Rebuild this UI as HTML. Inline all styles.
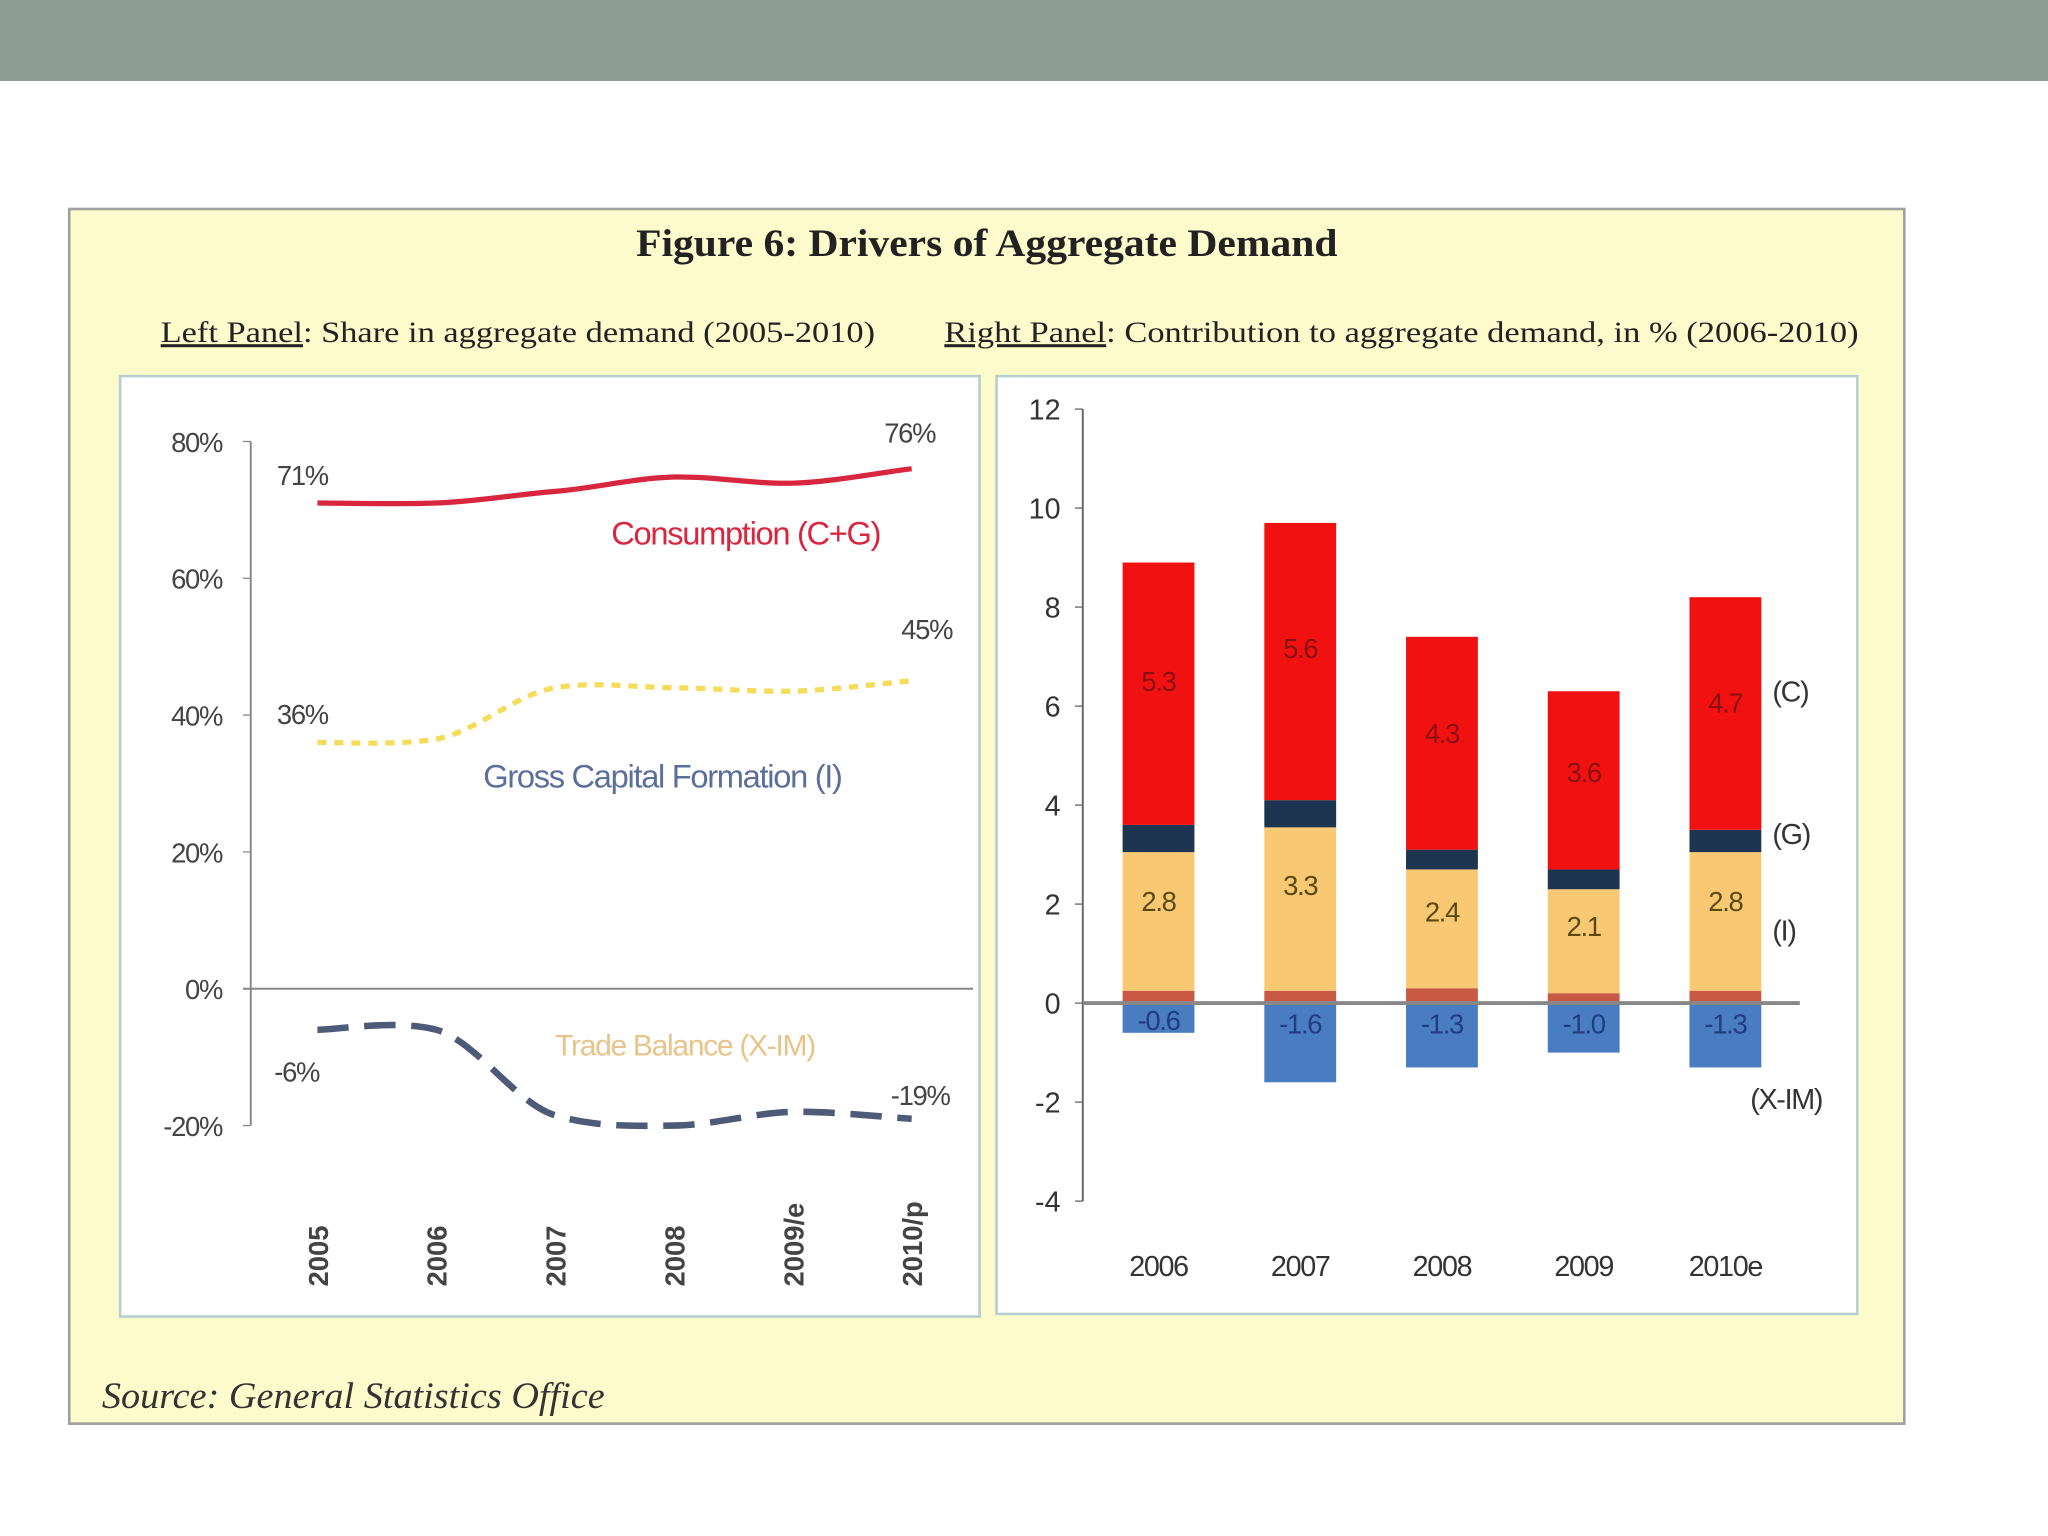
<!DOCTYPE html>
<html><head><meta charset="utf-8"><style>
html,body{margin:0;padding:0;background:#fff;}
svg{display:block;}
</style></head><body>
<svg id="s" width="2048" height="1536" viewBox="0 0 1568 1176" xmlns="http://www.w3.org/2000/svg" font-family="Liberation Sans, sans-serif">
<rect x="0" y="0" width="1568" height="62" fill="#8d9d96"/>
<rect x="53" y="160" width="1405" height="930" fill="#fdfbcc" stroke="#a0a0a0" stroke-width="2"/>
<text x="487" y="196" textLength="537" lengthAdjust="spacingAndGlyphs" font-family="Liberation Serif, serif" font-weight="bold" font-size="30" fill="#222">Figure 6: Drivers of Aggregate Demand</text>
<text x="123" y="262" textLength="547" lengthAdjust="spacingAndGlyphs" font-family="Liberation Serif, serif" font-size="23" fill="#222"><tspan text-decoration="underline">Left Panel</tspan>: Share in aggregate demand (2005-2010)</text>
<text x="723" y="262" textLength="700" lengthAdjust="spacingAndGlyphs" font-family="Liberation Serif, serif" font-size="23" fill="#222"><tspan text-decoration="underline">Right Panel</tspan>: Contribution to aggregate demand, in % (2006-2010)</text>
<rect x="92" y="288" width="658" height="720" fill="#fff" stroke="#b8cfcf" stroke-width="2"/>
<rect x="763" y="288" width="659" height="718" fill="#fff" stroke="#b8cfcf" stroke-width="2"/>
<g id="left"></g>
<g id="right"></g>
<text x="78" y="1078" textLength="385" lengthAdjust="spacingAndGlyphs" font-family="Liberation Serif, serif" font-style="italic" font-size="28" fill="#333">Source: General Statistics Office</text>
</svg>
<script>
const years = ['2005','2006','2007','2008','2009/e','2010/p'];
const consumption = [71, 71, 72.7, 74.8, 73.9, 76];
const capital = [36, 36.5, 44, 44, 43.5, 45];
const trade = [-6, -6, -18.5, -20, -18, -19];
const leftTicks = [80, 60, 40, 20, 0, -20];

const barYears = ['2006','2007','2008','2009','2010e'];
const other = [0.25, 0.25, 0.3, 0.2, 0.25];
const invest = [2.8, 3.3, 2.4, 2.1, 2.8];
const govt = [0.55, 0.55, 0.4, 0.4, 0.45];
const cons = [5.3, 5.6, 4.3, 3.6, 4.7];
const netExp = [-0.6, -1.6, -1.3, -1.0, -1.3];
const rightTicks = [12, 10, 8, 6, 4, 2, 0, -2, -4];

const NS = 'http://www.w3.org/2000/svg';
function mk(parent, tag, attrs, txt){
  const e = document.createElementNS(NS, tag);
  for (const k in attrs) e.setAttribute(k, attrs[k]);
  if (txt !== undefined) e.textContent = txt;
  parent.appendChild(e); return e;
}
const L = document.getElementById('left');
const lx = i => 243 + i * 91;
const ly = v => 757 - v * 5.2375;
let ax = mk(L, 'line', {x1:192, y1:ly(80), x2:192, y2:ly(-20), stroke:'#888', 'stroke-width':1.5});


let zl = mk(L, 'line', {x1:186, y1:ly(0), x2:745, y2:ly(0), stroke:'#888', 'stroke-width':1.5});


leftTicks.forEach(t => {
  mk(L, 'line', {x1:186, y1:ly(t), x2:192, y2:ly(t), stroke:'#888'});
  const tx = mk(L, 'text', {x:170, y:ly(t)+8, 'text-anchor':'end', 'font-size':21, fill:'#444', 'letter-spacing':'-1'}, t + '%');
  
  
});
years.forEach((y, i) => {
  const tx = mk(L, 'text', {transform:`translate(${lx(i)+8},${985}) rotate(-90)`, 'font-size':21, 'font-weight':'bold', fill:'#444'}, y);
  
  
});
function smooth(vals){
  const p = vals.map((v,i)=>[lx(i), ly(v)]);
  let d = `M${p[0][0]},${p[0][1]}`;
  for (let i=0;i<p.length-1;i++){
    const p0=p[Math.max(0,i-1)], p1=p[i], p2=p[i+1], p3=p[Math.min(p.length-1,i+2)];
    const c1=[p1[0]+(p2[0]-p0[0])/6, p1[1]+(p2[1]-p0[1])/8];
    const c2=[p2[0]-(p3[0]-p1[0])/6, p2[1]-(p3[1]-p1[1])/8];
    d += ` C${c1[0]},${c1[1]} ${c2[0]},${c2[1]} ${p2[0]},${p2[1]}`;
  }
  return d;
}
let s1 = mk(L, 'path', {d:smooth(consumption), fill:'none', stroke:'#d9263f', 'stroke-width':4});


let s2 = mk(L, 'path', {d:smooth(capital), fill:'none', stroke:'#f5dc5a', 'stroke-width':4, 'stroke-dasharray':'7 6'});


let s3 = mk(L, 'path', {d:smooth(trade), fill:'none', stroke:'#4d5a78', 'stroke-width':5, 'stroke-dasharray':'24 12'});


const lab = (txt, x, y, col, size, name) => {
  const t = mk(L, 'text', {x, y, 'font-size':size, fill:col, 'letter-spacing':'-1'}, txt);
  
  
};
lab(consumption[0] + '%', 212, ly(consumption[0]) - 14, '#444', 21, 'consumption-start-label');
lab(consumption[5] + '%', 677, ly(consumption[5]) - 20, '#444', 21, 'consumption-end-label');
lab('Consumption (C+G)', 468, 417, '#d9263f', 25, 'consumption-series-label');
lab(capital[0] + '%', 212, ly(capital[0]) - 14, '#444', 21, 'capital-start-label');
lab(capital[5] + '%', 690, ly(capital[5]) - 32, '#444', 21, 'capital-end-label');
lab('Gross Capital Formation (I)', 370, 603, '#5a6f9a', 25, 'capital-series-label');
lab(trade[0] + '%', 210, 828, '#444', 21, 'trade-start-label');
lab(trade[5] + '%', 682, 846, '#444', 21, 'trade-end-label');
lab('Trade Balance (X-IM)', 425, 808, '#e8c48a', 23, 'trade-series-label');

const R = document.getElementById('right');
const bx = i => 887 + i * 108.5;
const by = v => 768 - v * 37.9;
const bw = 55;
let rax = mk(R, 'line', {x1:829, y1:by(12), x2:829, y2:by(-4), stroke:'#666', 'stroke-width':1.5});


rightTicks.forEach(t => {
  mk(R, 'line', {x1:823, y1:by(t), x2:829, y2:by(t), stroke:'#666'});
  const tx = mk(R, 'text', {x:812, y:by(t)+8, 'text-anchor':'end', 'font-size':22, fill:'#333'}, t);
  
  
});
barYears.forEach((y, i) => {
  const x0 = bx(i) - bw/2;
  const segs = [[other[i],'#c85a45','other'],[invest[i],'#f8c873','investment'],[govt[i],'#1d3550','government'],[cons[i],'#f21111','consumption']];
  let base = 0;
  segs.forEach(([v,c,n]) => {
    const r = mk(R, 'rect', {x:x0, y:by(base+v), width:bw, height:by(base)-by(base+v), fill:c});
    
    
    base += v;
  });
  const nr = mk(R, 'rect', {x:x0, y:by(0), width:bw, height:by(netExp[i])-by(0), fill:'#4a7cc2'});
  
  
  const ci = mk(R, 'text', {x:bx(i), y:by(other[i]+invest[i]+govt[i]+cons[i]*0.55)+8, 'text-anchor':'middle', 'font-size':21, fill:'#8a1010', 'letter-spacing':'-1'}, cons[i].toFixed(1));
  
  
  const ii = mk(R, 'text', {x:bx(i), y:by(other[i]+invest[i]*0.65)+8, 'text-anchor':'middle', 'font-size':21, fill:'#5a4a10', 'letter-spacing':'-1'}, invest[i].toFixed(1));
  
  
  const ni = mk(R, 'text', {x:bx(i), y:by(Math.max(netExp[i]*0.55,-0.4))+8, 'text-anchor':'middle', 'font-size':21, fill:'#1e3e80', 'letter-spacing':'-1'}, netExp[i].toFixed(1));
  
  
  const xl = mk(R, 'text', {x:bx(i), y:977, 'text-anchor':'middle', 'font-size':22, fill:'#333', 'letter-spacing':'-1'}, y);
  
  
});
let rz = mk(R, 'line', {x1:829, y1:by(0), x2:1378, y2:by(0), stroke:'#888', 'stroke-width':3});


[['(C)',537],['(G)',646],['(I)',720],['(X-IM)',849]].forEach(([t,y]) => {
  const e = mk(R, 'text', {x:t==='(X-IM)'?1340:1357, y, 'font-size':22, fill:'#333', 'letter-spacing':'-1'}, t);
  
  
});
</script>
</body></html>
